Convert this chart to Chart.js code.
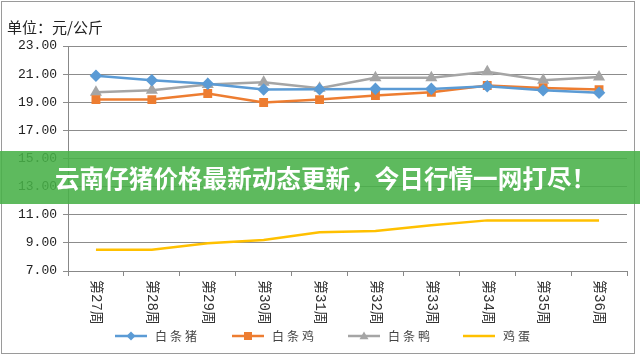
<!DOCTYPE html>
<html>
<head>
<meta charset="utf-8">
<script src="https://cdn.jsdelivr.net/npm/chart.js@4/dist/chart.umd.min.js"></script>
<style>
html,body{margin:0;padding:0;background:#fff;}
#wrap{width:640px;height:356px;position:relative;}
</style>
</head>
<body>
<div id="wrap"><canvas id="c" width="640" height="356"></canvas></div>
<script>
const categories = ['第27周','第28周','第29周','第30周','第31周','第32周','第33周','第34周','第35周','第36周'];
const seriesNames = ['白条猪','白条鸡','白条鸭','鸡蛋'];
const pork    = [20.88,20.57,20.31,19.90,19.93,19.95,19.95,20.14,19.86,19.67];
const chicken = [19.19,19.19,19.62,18.98,19.19,19.48,19.71,20.19,20.02,19.90];
const duck    = [19.71,19.86,20.26,20.43,20.00,20.74,20.74,21.17,20.57,20.79];
const eggs    = [8.52,8.52,8.97,9.20,9.75,9.85,10.25,10.60,10.60,10.60];
const yTickValues = [7,9,11,13,15,17,19,21,23];
const unitText = '单位：元/公斤';
const bannerText = '云南仔猪价格最新动态更新，今日行情一网打尽！';

const colors = ['#5b9bd5','#ed7d31','#a5a5a5','#ffc000'];
const markers = ['rectRot','rect','triangle',false];
const seriesData = [pork, chicken, duck, eggs];

const datasets = seriesData.map((d,i)=>({
  label: seriesNames[i],
  data: d,
  borderColor: colors[i],
  backgroundColor: colors[i],
  borderWidth: 2.5,
  pointStyle: markers[i],
  pointRadius: markers[i] ? 4.5 : 0,
  pointHoverRadius: 0,
  tension: 0
}));

const cjk = '"Noto Sans CJK SC", sans-serif';

const overlay = {
  id: 'overlay',
  afterDraw(chart){
    const ctx = chart.ctx;
    const xs = chart.scales.x;
    ctx.save();
    // unit title
    ctx.fillStyle = '#222';
    ctx.font = '15px ' + cjk;
    ctx.textBaseline = 'middle';
    ctx.textAlign = 'left';
    ctx.fillText(unitText, 7, 27);
    // x labels, rotated clockwise
    ctx.font = '14px "Liberation Mono", ' + cjk;
    ctx.fillStyle = '#333';
    categories.forEach((lab,i)=>{
      const x = xs.getPixelForTick(i);
      ctx.save();
      ctx.translate(x, 280);
      ctx.rotate(Math.PI/2);
      ctx.textAlign = 'left';
      ctx.textBaseline = 'middle';
      ctx.fillText(lab, 0, 0);
      ctx.restore();
    });
    // legend
    const lx = [115, 232, 348, 463];
    const ly = 336;
    ctx.font = '12px ' + cjk;
    ctx.letterSpacing = '3px';
    seriesNames.forEach((n,i)=>{
      ctx.strokeStyle = colors[i];
      ctx.lineWidth = 2.5;
      ctx.beginPath();
      ctx.moveTo(lx[i], ly);
      ctx.lineTo(lx[i]+32, ly);
      ctx.stroke();
      ctx.fillStyle = colors[i];
      const cx = lx[i]+16, s = 4.5;
      if (markers[i]==='rectRot'){
        ctx.beginPath(); ctx.moveTo(cx,ly-s); ctx.lineTo(cx+s,ly); ctx.lineTo(cx,ly+s); ctx.lineTo(cx-s,ly); ctx.closePath(); ctx.fill();
      } else if (markers[i]==='rect'){
        ctx.fillRect(cx-s+0.5, ly-s+0.5, 2*s-1, 2*s-1);
      } else if (markers[i]==='triangle'){
        ctx.beginPath(); ctx.moveTo(cx,ly-s); ctx.lineTo(cx+s,ly+s*0.7); ctx.lineTo(cx-s,ly+s*0.7); ctx.closePath(); ctx.fill();
      }
      ctx.fillStyle = '#444';
      ctx.textAlign = 'left';
      ctx.textBaseline = 'middle';
      ctx.fillText(n, lx[i]+40, ly);
    });
    ctx.letterSpacing = '0px';
    // border
    ctx.strokeStyle = '#9a9a9a';
    ctx.lineWidth = 1;
    ctx.strokeRect(1.5, 1.5, 633, 352);
    // banner
    ctx.fillStyle = 'rgba(72,176,72,0.88)';
    ctx.fillRect(0, 151, 640, 53);
    ctx.fillStyle = '#fff';
    ctx.font = 'bold 24.6px ' + cjk;
    ctx.textAlign = 'left';
    ctx.textBaseline = 'middle';
    ctx.fillText(bannerText, 55, 179);
    ctx.restore();
  }
};

new Chart(document.getElementById('c'), {
  type: 'line',
  data: { labels: categories, datasets },
  options: {
    responsive: false,
    animation: false,
    devicePixelRatio: 1,
    layout: { padding: { left: 0, right: 13, top: 46, bottom: 0 } },
    plugins: { legend: { display: false }, tooltip: { enabled: false }, title: { display: false } },
    scales: {
      x: {
        offset: true,
        grid: { display: true, drawOnChartArea: false, offset: true, tickLength: 5, color: '#888' },
        border: { color: '#888', width: 1 },
        ticks: { display: false },
        afterFit(s){ s.height = 85; }
      },
      y: {
        min: 7, max: 23,
        afterBuildTicks(s){ s.ticks = yTickValues.map(v=>({value:v})); },
        grid: { color: '#8c8c8c', tickLength: 5, lineWidth: 1 },
        border: { color: '#888', width: 1 },
        ticks: {
          color: '#222',
          font: { family: '"Liberation Mono", monospace', size: 13 },
          padding: 6,
          callback: v => Number(v).toFixed(2)
        },
        afterFit(s){ s.width = 68; }
      }
    }
  },
  plugins: [overlay]
});
</script>
</body>
</html>
